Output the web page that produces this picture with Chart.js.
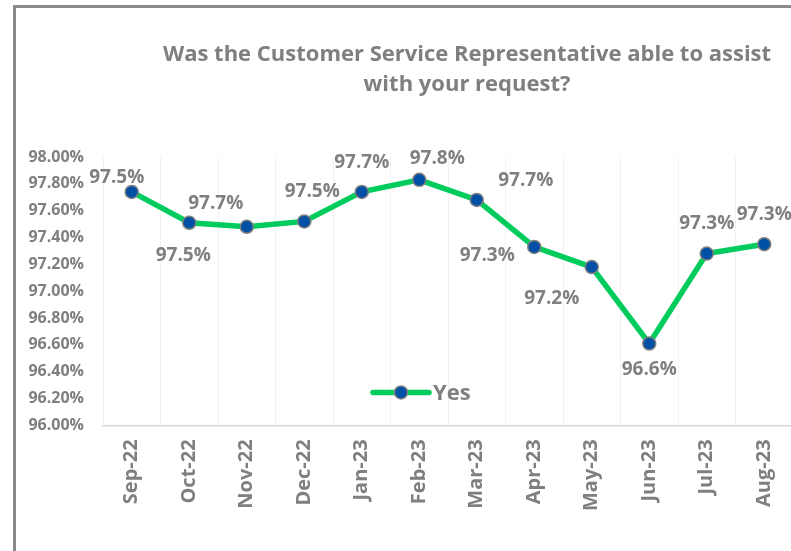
<!DOCTYPE html>
<html>
<head>
<meta charset="utf-8">
<script src="https://cdn.jsdelivr.net/npm/chart.js@4.4.0/dist/chart.umd.min.js"></script>
<style>
  html, body { margin: 0; padding: 0; width: 791px; height: 551px; overflow: hidden; background: #ffffff; }
  #frame { position: absolute; left: 13px; top: 5px; width: 910px; height: 560px; border-left: 3px solid #8a8a8a; border-top: 3px solid #8a8a8a; box-sizing: border-box; }
  #wrap { position: absolute; left: 16px; top: 8px; width: 902px; height: 545px; }
</style>
</head>
<body>
<div id="frame"></div>
<div id="wrap"><canvas id="c"></canvas></div>
<script>
// ---- data ----
const categories = ["Sep-22","Oct-22","Nov-22","Dec-22","Jan-23","Feb-23","Mar-23","Apr-23","May-23","Jun-23","Jul-23","Aug-23"];
const yesValues = [97.74, 97.51, 97.48, 97.52, 97.74, 97.83, 97.68, 97.33, 97.18, 96.61, 97.28, 97.35];
const dataLabels = ["97.5%","97.5%","97.7%","97.5%","97.7%","97.8%","97.7%","97.3%","97.2%","96.6%","97.3%","97.3%"];
const seriesName = "Yes";
const titleLines = ["Was the Customer Service Representative able to assist", "with your request?"];
const yMin = 96, yMax = 98, yStep = 0.2;

// ---- styles / label placement (relative to each point) ----
const GRAY = "#7f7f7f";
const GREEN = "#00cc5e";
const BLUE = "#0050a5";
const FONT = "'Open Sans', sans-serif";
const labelOffsets = [[-15,-14],[-6,33],[-31,-23],[8,-30],[0,-29],[18,-21],[49,-19],[-47,9],[-40,32],[0,26],[0,-30],[0,-30]];

const titlePlugin = {
  id: 'chartTitle',
  afterDraw(chart) {
    const ctx = chart.ctx;
    ctx.save();
    ctx.font = "bold 22px " + FONT;
    ctx.fillStyle = GRAY;
    ctx.textAlign = 'center';
    ctx.textBaseline = 'alphabetic';
    titleLines.forEach((t, i) => ctx.fillText(t, chart.width / 2, 53 + i * 30));
    ctx.restore();
  }
};

const labelPlugin = {
  id: 'pointLabels',
  afterDatasetsDraw(chart) {
    const ctx = chart.ctx;
    const meta = chart.getDatasetMeta(0);
    ctx.save();
    ctx.font = "bold 19px " + FONT;
    ctx.fillStyle = GRAY;
    ctx.textAlign = 'center';
    ctx.textBaseline = 'middle';
    meta.data.forEach((pt, i) => {
      const o = labelOffsets[i];
      ctx.fillText(dataLabels[i], pt.x + o[0], pt.y + o[1]);
    });
    ctx.restore();
  }
};

const legendPlugin = {
  id: 'innerLegend',
  afterDatasetsDraw(chart) {
    const ctx = chart.ctx;
    const a = chart.chartArea;
    const ds = chart.data.datasets[0];
    const x0 = a.left + 270, x1 = a.left + 326, y = a.bottom - 33;
    ctx.save();
    ctx.strokeStyle = ds.borderColor;
    ctx.lineWidth = ds.borderWidth;
    ctx.lineCap = 'round';
    ctx.beginPath(); ctx.moveTo(x0, y); ctx.lineTo(x1, y); ctx.stroke();
    ctx.beginPath(); ctx.arc((x0 + x1) / 2, y, ds.pointRadius, 0, Math.PI * 2);
    ctx.fillStyle = ds.pointBackgroundColor; ctx.fill();
    ctx.lineWidth = ds.pointBorderWidth; ctx.strokeStyle = ds.pointBorderColor; ctx.stroke();
    ctx.font = "bold 22px " + FONT;
    ctx.fillStyle = GRAY;
    ctx.textAlign = 'left';
    ctx.textBaseline = 'middle';
    ctx.fillText(ds.label, x1 + 4, y + 1);
    ctx.restore();
  }
};

new Chart(document.getElementById('c'), {
  type: 'line',
  data: {
    labels: categories,
    datasets: [{
      label: seriesName,
      data: yesValues,
      borderColor: GREEN,
      borderWidth: 5.5,
      pointRadius: 6.5,
      pointHoverRadius: 6.5,
      pointBackgroundColor: BLUE,
      pointBorderColor: GRAY,
      pointBorderWidth: 1.5,
      tension: 0,
      clip: false
    }]
  },
  options: {
    responsive: true,
    maintainAspectRatio: false,
    animation: false,
    layout: { padding: { left: 13, right: 125, top: 149, bottom: 28 } },
    plugins: {
      legend: { display: false },
      tooltip: { enabled: false },
      title: { display: false }
    },
    scales: {
      x: {
        offset: true,
        grid: { display: true, offset: true, color: '#f2f2f2', drawTicks: false },
        border: { display: true, color: '#d9d9d9', width: 1.5 },
        ticks: {
          color: GRAY,
          font: { family: FONT, size: 20, weight: 'bold' },
          minRotation: 90, maxRotation: 90,
          padding: 14,
          autoSkip: false
        }
      },
      y: {
        min: yMin, max: yMax,
        grid: { display: false, drawTicks: false },
        border: { display: false },
        afterFit(scale) { scale.width = 74; },
        ticks: {
          stepSize: yStep,
          color: GRAY,
          font: { family: FONT, size: 16, weight: 'bold' },
          padding: 19,
          callback: v => Number(v).toFixed(2) + '%'
        }
      }
    }
  },
  plugins: [titlePlugin, labelPlugin, legendPlugin]
});
</script>
</body>
</html>
